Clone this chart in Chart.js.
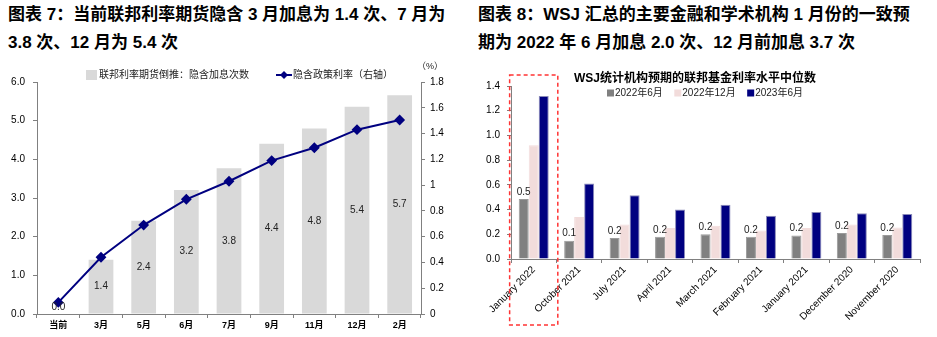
<!DOCTYPE html>
<html>
<head>
<meta charset="utf-8">
<script src="https://cdn.jsdelivr.net/npm/chart.js@4.4.1/dist/chart.umd.min.js"></script>
<style>
body{margin:0;width:937px;height:337px;background:#fff;position:relative;overflow:hidden;font-family:"Liberation Sans",Arial,"Noto Sans CJK SC",sans-serif;}
.ttl{position:absolute;top:1px;font-weight:bold;font-size:17px;line-height:28px;white-space:nowrap;color:#000;}
#w7{position:absolute;left:0;top:55px;width:460px;height:282px;}
#w8{position:absolute;left:470px;top:55px;width:467px;height:282px;}
</style>
</head>
<body>
<div class="ttl" style="left:8px;">图表 7：当前联邦利率期货隐含 3 月加息为 1.4 次、7 月为<br>3.8 次、12 月为 5.4 次</div>
<div class="ttl" style="left:478px;">图表 8：WSJ 汇总的主要金融和学术机构 1 月份的一致预<br>期为 2022 年 6 月加息 2.0 次、12 月前加息 3.7 次</div>
<div id="w7"><canvas id="c7"></canvas></div>
<div id="w8"><canvas id="c8"></canvas></div>
<script>
const FONT = '"Liberation Sans", Arial, "Noto Sans CJK SC", sans-serif';
Chart.defaults.font.family = FONT;
Chart.defaults.color = '#000';
Chart.defaults.animation = false;
Chart.defaults.maintainAspectRatio = false;

// chart 7 data
const months7 = ['当前', '3月', '5月', '6月', '7月', '9月', '11月', '12月', '2月'];
const hikes7 = [0, 1.4, 2.41, 3.21, 3.77, 4.4, 4.8, 5.36, 5.66];
const rate7 = [0.09, 0.44, 0.69, 0.89, 1.03, 1.19, 1.29, 1.43, 1.505];
const hikesAxis7 = [0, 6, 1];     // min, max, step
const rateAxis7 = [0, 1.8, 0.2];

// chart 8 data
const periods8 = ['January 2022', 'October 2021', 'July 2021', 'April 2021', 'March 2021',
    'February 2021', 'January 2021', 'December 2020', 'November 2020'];
const jun22 = [0.485, 0.148, 0.17, 0.18, 0.20, 0.18, 0.19, 0.21, 0.195];
const dec22 = [0.92, 0.34, 0.28, 0.25, 0.27, 0.23, 0.25, 0.28, 0.255];
const jun23 = [1.32, 0.61, 0.515, 0.40, 0.44, 0.35, 0.38, 0.37, 0.365];
const rateAxis8 = [0, 1.4, 0.2];

const AXIS = '#808080';

function axisGrid() {
    return { display: true, drawOnChartArea: false, color: AXIS, tickLength: 4 };
}

// legend + labels for chart 7
const extras7 = {
    id: 'extras7',
    afterDatasetsDraw(chart) {
        const ctx = chart.ctx;
        const meta = chart.getDatasetMeta(0);
        ctx.save();
        ctx.font = '10px ' + FONT;
        ctx.fillStyle = '#222';
        ctx.textAlign = 'center';
        ctx.textBaseline = 'middle';
        meta.data.forEach((bar, i) => {
            const y = Math.min((bar.y + bar.base) / 2, bar.base - 7);
            ctx.fillText(hikes7[i].toFixed(1), bar.x, y);
        });
        ctx.restore();
    },
    afterDraw(chart) {
        const ctx = chart.ctx;
        const ds = chart.data.datasets;
        const y = 20;
        ctx.save();
        ctx.font = '10px ' + FONT;
        ctx.textBaseline = 'middle';
        ctx.fillStyle = ds[0].backgroundColor;
        let x = 86;
        ctx.fillRect(x, y - 5, 11, 10);
        x += 13;
        ctx.fillStyle = '#222';
        ctx.fillText(ds[0].label, x, y);
        x += ctx.measureText(ds[0].label).width + 27;
        ctx.strokeStyle = ds[1].borderColor;
        ctx.lineWidth = 2;
        ctx.beginPath();
        ctx.moveTo(x, y);
        ctx.lineTo(x + 16, y);
        ctx.stroke();
        ctx.fillStyle = ds[1].borderColor;
        ctx.beginPath();
        ctx.moveTo(x + 8, y - 4);
        ctx.lineTo(x + 12, y);
        ctx.lineTo(x + 8, y + 4);
        ctx.lineTo(x + 4, y);
        ctx.closePath();
        ctx.fill();
        ctx.fillStyle = '#222';
        ctx.fillText(ds[1].label, x + 17, y);
        // unit of right axis
        ctx.font = '9px ' + FONT;
        ctx.textAlign = 'center';
        ctx.fillText('（%）', chart.scales.y1.left + 9, 12);
        ctx.restore();
    }
};

new Chart(document.getElementById('c7'), {
    type: 'bar',
    data: {
        labels: months7,
        datasets: [
            {
                type: 'bar',
                label: '联邦利率期货倒推：隐含加息次数',
                data: hikes7,
                yAxisID: 'y',
                backgroundColor: '#d9d9d9',
                categoryPercentage: 0.58,
                barPercentage: 1,
                order: 2
            },
            {
                type: 'line',
                label: '隐含政策利率（右轴）',
                data: rate7,
                yAxisID: 'y1',
                borderColor: '#000080',
                backgroundColor: '#000080',
                borderWidth: 2,
                pointStyle: 'rectRot',
                pointRadius: 4,
                tension: 0,
                order: 1
            }
        ]
    },
    options: {
        responsive: true,
        layout: { padding: { top: 27 } },
        plugins: { legend: { display: false }, tooltip: { enabled: false } },
        scales: {
            x: {
                grid: Object.assign(axisGrid(), { offset: true }),
                border: { color: AXIS },
                ticks: { font: { size: 9, weight: 'bold' }, padding: 2, maxRotation: 0 },
                afterFit: s => { s.height = 23; }
            },
            y: {
                position: 'left',
                min: hikesAxis7[0], max: hikesAxis7[1],
                ticks: { stepSize: hikesAxis7[2], callback: v => v.toFixed(1), font: { size: 10 }, padding: 8 },
                grid: axisGrid(),
                border: { color: AXIS },
                afterFit: s => { s.width = 37; }
            },
            y1: {
                position: 'right',
                min: rateAxis7[0], max: rateAxis7[1],
                ticks: { stepSize: rateAxis7[2], callback: v => String(Math.round(v * 10) / 10), font: { size: 10 }, padding: 5 },
                grid: axisGrid(),
                border: { color: AXIS },
                afterFit: s => { s.width = 39; }
            }
        }
    },
    plugins: [extras7]
});

// legend, labels and highlight box for chart 8
const extras8 = {
    id: 'extras8',
    afterDatasetsDraw(chart) {
        const ctx = chart.ctx;
        const meta = chart.getDatasetMeta(0);
        ctx.save();
        ctx.font = '10px ' + FONT;
        ctx.fillStyle = '#222';
        ctx.textAlign = 'center';
        ctx.textBaseline = 'bottom';
        meta.data.forEach((bar, i) => {
            ctx.fillText(jun22[i].toFixed(1), bar.x, bar.y - 2);
        });
        ctx.restore();
    },
    afterDraw(chart) {
        const ctx = chart.ctx;
        const xs = chart.scales.x;
        const ys = chart.scales.y;
        ctx.save();
        // legend
        ctx.font = '10px ' + FONT;
        ctx.textBaseline = 'middle';
        let x = 137;
        const y = 38;
        chart.data.datasets.forEach(ds => {
            ctx.fillStyle = ds.backgroundColor;
            ctx.fillRect(x, y - 3.5, 7, 7);
            x += 8;
            ctx.fillStyle = '#222';
            ctx.fillText(ds.label, x, y);
            x += ctx.measureText(ds.label).width + 11.5;
        });
        // dashed highlight
        const half = (xs.getPixelForValue(1) - xs.getPixelForValue(0)) * 0.53;
        const cx = xs.getPixelForValue(0);
        ctx.strokeStyle = '#ff3333';
        ctx.lineWidth = 1.5;
        ctx.setLineDash([4, 3]);
        ctx.strokeRect(cx - half, ys.getPixelForValue(rateAxis8[1]) - 11, half * 2, chart.height - 12 - (ys.getPixelForValue(rateAxis8[1]) - 11));
        ctx.restore();
    }
};

new Chart(document.getElementById('c8'), {
    type: 'bar',
    data: {
        labels: periods8,
        datasets: [
            { label: '2022年6月', data: jun22, backgroundColor: '#808080', borderColor: '#9a9a9a', borderWidth: 1 },
            { label: '2022年12月', data: dec22, backgroundColor: '#f2dcdb', borderColor: '#f2dcdb', borderWidth: 1 },
            { label: '2023年6月', data: jun23, backgroundColor: '#000080', borderColor: '#8a8ab8', borderWidth: 1 }
        ]
    },
    options: {
        responsive: true,
        layout: { padding: { top: 4.6, right: 17 } },
        datasets: { bar: { categoryPercentage: 0.66, barPercentage: 1 } },
        plugins: {
            legend: { display: false },
            tooltip: { enabled: false },
            title: {
                display: true,
                text: 'WSJ统计机构预期的联邦基金利率水平中位数',
                font: { size: 12, weight: 'bold' },
                color: '#000',
                padding: { top: 12, bottom: 0 }
            }
        },
        scales: {
            x: {
                grid: Object.assign(axisGrid(), { offset: true }),
                border: { color: AXIS },
                ticks: { font: { size: 10 }, minRotation: 45, maxRotation: 45, padding: 1 },
                afterFit: s => { s.height = 78; }
            },
            y: {
                min: rateAxis8[0], max: rateAxis8[1],
                ticks: { stepSize: rateAxis8[2], callback: v => v.toFixed(1), font: { size: 10 }, padding: 7 },
                grid: axisGrid(),
                border: { color: AXIS },
                afterFit: s => { s.width = 41; }
            }
        }
    },
    plugins: [extras8]
});
</script>
</body>
</html>
